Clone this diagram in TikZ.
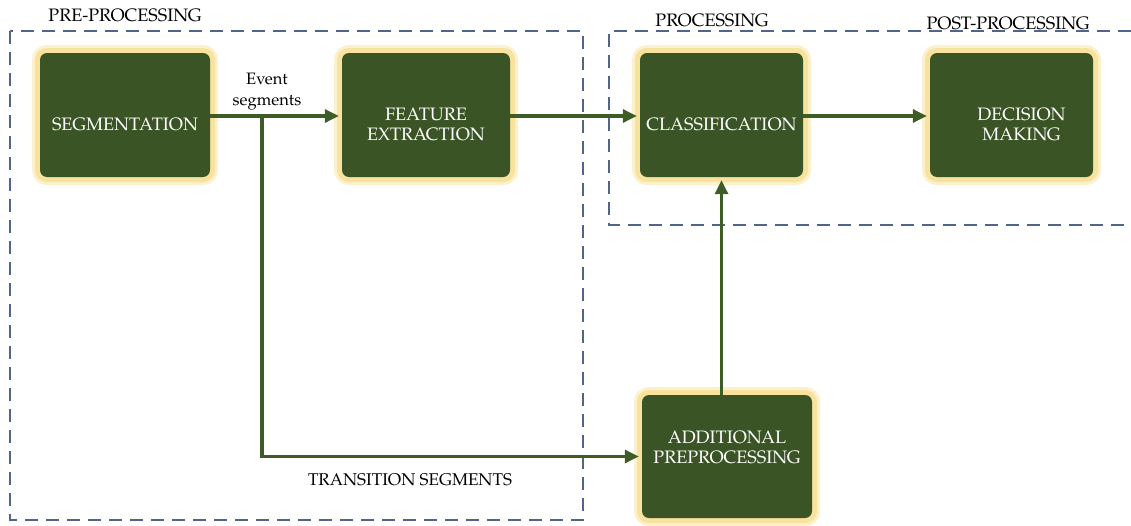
\documentclass[tikz,border=0pt]{standalone}
\usepackage{fontspec}
\setmainfont{TeX Gyre Pagella}
\usetikzlibrary{arrows.meta}
\definecolor{boxgreen}{HTML}{3A5425}
\definecolor{arrgreen}{HTML}{3D5C26}
\definecolor{glowA}{HTML}{FCF1CC}
\definecolor{glowB}{HTML}{F7E29E}
\definecolor{dashc}{HTML}{50648C}
\tikzset{
  stage/.style={rectangle, rounded corners=7pt, fill=boxgreen, inner sep=0pt,
    preaction={draw=glowA, line width=16pt},
    preaction={draw=glowB, line width=10pt}},
  lbl/.style={text=white, align=center, inner sep=0pt, yshift=-9pt,
    font=\fontsize{18}{20}\selectfont},
  head/.style={text=black, inner sep=0pt, font=\fontsize{18}{20}\selectfont},
  note/.style={text=black, inner sep=0pt, align=center, font=\fontsize{16.5}{21}\selectfont},
  dashbox/.style={draw=dashc, line width=1.2pt, dash pattern=on 13pt off 8pt},
  arr/.style={draw=arrgreen, line width=3.2pt, shorten >=3pt, -{Triangle[length=14pt,width=13pt]}}
}
\begin{document}
\begin{tikzpicture}[x=1pt,y=-1pt]
\useasboundingbox (0,0) rectangle (1131,525);
% dashed regions
\draw[dashbox] (10,31) rectangle (583,520);
\draw[dashbox] (1131,31) -- (609,31) -- (609,225) -- (1131,225);
% headers
\node[head] (hpre) at (125,15) {PRE-PROCESSING};
\node[head] (hproc) at (712,20) {PROCESSING};
\node[head] (hpost) at (1008,23) {POST-PROCESSING};
% stages
\node[stage, minimum width=170pt, minimum height=124pt,
  label={[lbl]center:SEGMENTATION}] (seg) at (125,115) {};
\node[stage, minimum width=168pt, minimum height=124pt,
  label={[lbl]center:FEATURE\\EXTRACTION}] (feat) at (426,115) {};
\node[stage, minimum width=163pt, minimum height=124pt,
  label={[lbl]center:CLASSIFICATION}] (cls) at (721.5,115) {};
\node[stage, minimum width=163pt, minimum height=124pt,
  label={[lbl, xshift=10pt]center:DECISION\\MAKING}] (dec) at (1011.5,115) {};
\node[stage, minimum width=170pt, minimum height=123pt,
  label={[lbl, yshift=18pt]center:ADDITIONAL\\PREPROCESSING}] (add) at (727,456.5) {};
% connectors
\coordinate (br) at (262,116);
\draw[arr] (seg.east |- br) -- (feat.west |- br);
\draw[arr] (feat.east |- br) -- (cls.west |- br);
\draw[arr] (cls.east |- br) -- (dec.west |- br);
\draw[arr] (br) |- (add.west);
\draw[arr] (add.north -| cls.south) -- (cls.south);
% labels
\node[note] (ev) at (267,92) {Event\\segments};
\node[note, font=\fontsize{17}{20}\selectfont] (tr) at (410,480) {TRANSITION SEGMENTS};
\end{tikzpicture}
\end{document}
